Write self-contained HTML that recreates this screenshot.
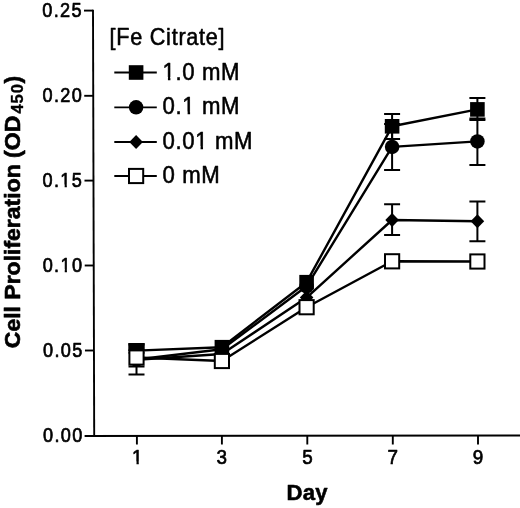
<!DOCTYPE html>
<html><head><meta charset="utf-8"><title>Cell Proliferation</title>
<style>
html,body{margin:0;padding:0;background:#fff;}
body{width:520px;height:508px;overflow:hidden;}
svg{display:block;filter:blur(0.35px);}
text{font-family:"Liberation Sans",Arial,Helvetica,sans-serif;fill:#000;stroke:#000;stroke-width:0.7px;stroke-linejoin:round;}
text.b{stroke-width:0.8px;}
text.l{stroke-width:0.55px;}
</style></head><body>
<svg width="520" height="508" viewBox="0 0 520 508">
<rect width="520" height="508" fill="#fff"/>

<g stroke="#000" stroke-width="1.9" fill="none" stroke-linecap="butt">
<line x1="93.0" y1="9.65" x2="94.2" y2="436.8"/>
<line x1="84.6" y1="435.95" x2="520" y2="435.5"/>
<line x1="84.00" y1="10.6" x2="93.00" y2="10.6"/>
<line x1="84.24" y1="95.8" x2="93.24" y2="95.8"/>
<line x1="84.48" y1="180.6" x2="93.48" y2="180.6"/>
<line x1="84.72" y1="265.5" x2="93.72" y2="265.5"/>
<line x1="84.96" y1="350.5" x2="93.96" y2="350.5"/>
<line x1="136.9" y1="435.8" x2="136.9" y2="444.5"/>
<line x1="221.9" y1="435.8" x2="221.9" y2="444.5"/>
<line x1="307.3" y1="435.8" x2="307.3" y2="444.5"/>
<line x1="392.8" y1="435.8" x2="392.8" y2="444.5"/>
<line x1="478.0" y1="435.8" x2="478.0" y2="444.5"/>
</g>
<g transform="translate(42.30,16.60) scale(0.875,1)"><text font-size="20.7" letter-spacing="1.53">0.25</text></g>
<g transform="translate(42.60,101.50) scale(0.875,1)"><text font-size="20.7" letter-spacing="1.53">0.20</text></g>
<g transform="translate(42.60,187.10) scale(0.875,1)"><text font-size="20.7" letter-spacing="1.53">0.15</text><rect x="20.35" y="-2.50" width="4.83" height="4.15" fill="#fff"/><rect x="27.71" y="-2.50" width="4.67" height="4.15" fill="#fff"/></g>
<g transform="translate(42.70,271.80) scale(0.875,1)"><text font-size="20.7" letter-spacing="1.53">0.10</text><rect x="20.35" y="-2.50" width="4.83" height="4.15" fill="#fff"/><rect x="27.71" y="-2.50" width="4.67" height="4.15" fill="#fff"/></g>
<g transform="translate(43.00,356.80) scale(0.875,1)"><text font-size="20.7" letter-spacing="1.53">0.05</text></g>
<g transform="translate(43.10,442.00) scale(0.875,1)"><text font-size="20.7" letter-spacing="1.53">0.00</text></g>
<g transform="translate(137.30,464.00) scale(0.91,1)"><text text-anchor="middle" font-size="20.7">1</text><rect x="-5.73" y="-2.50" width="4.83" height="4.15" fill="#fff"/><rect x="1.63" y="-2.50" width="4.67" height="4.15" fill="#fff"/></g>
<g transform="translate(221.70,464.00) scale(0.91,1)"><text text-anchor="middle" font-size="20.7">3</text></g>
<g transform="translate(307.50,464.00) scale(0.91,1)"><text text-anchor="middle" font-size="20.7">5</text></g>
<g transform="translate(392.80,464.00) scale(0.91,1)"><text text-anchor="middle" font-size="20.7">7</text></g>
<g transform="translate(477.90,464.00) scale(0.91,1)"><text text-anchor="middle" font-size="20.7">9</text></g>
<text class="b" style="stroke-width:0.6px" transform="translate(286.4,500.2) scale(0.97,1)" font-size="22.8" font-weight="bold" letter-spacing="0.3">Day</text>
<text class="b" style="stroke-width:0.65px" transform="translate(19.6,348.2) rotate(-90) scale(1,0.96)" font-size="23" font-weight="bold">Cell Proliferation (OD</text>
<text class="b" style="stroke-width:0.35px" transform="translate(22.9,113.6) rotate(-90)" font-size="16.6" font-weight="bold" letter-spacing="0.9">450</text>
<text class="b" style="stroke-width:0.5px" transform="translate(19.6,83.4) rotate(-90) scale(1,0.97)" font-size="23" font-weight="bold">)</text>
<text class="l" transform="translate(109.6,44.5) scale(0.94,1)" font-size="23" letter-spacing="0.78">[Fe Citrate]</text>
<line x1="114.3" y1="72.5" x2="156.8" y2="72.5" stroke="#000" stroke-width="1.8"/>
<rect x="128.80" y="65.20" width="14.6" height="14.6" fill="#000"/>
<g transform="translate(162.60,79.60) scale(0.944,1)"><text class="l" font-size="23.5" letter-spacing="0.63">1.0 mM</text><rect x="0.32" y="-2.63" width="5.32" height="4.21" fill="#fff"/><rect x="8.26" y="-2.63" width="5.14" height="4.21" fill="#fff"/></g>
<line x1="114.3" y1="107.3" x2="156.8" y2="107.3" stroke="#000" stroke-width="1.8"/>
<circle cx="136.10" cy="107.30" r="7.25" fill="#000"/>
<g transform="translate(162.60,114.30) scale(0.944,1)"><text class="l" font-size="23.5" letter-spacing="0.63">0.1 mM</text><rect x="21.17" y="-2.63" width="5.32" height="4.21" fill="#fff"/><rect x="29.12" y="-2.63" width="5.14" height="4.21" fill="#fff"/></g>
<line x1="114.3" y1="142.0" x2="156.8" y2="142.0" stroke="#000" stroke-width="1.8"/>
<polygon points="129.30,142.00 136.10,135.00 142.90,142.00 136.10,149.00" fill="#000"/>
<g transform="translate(162.60,148.90) scale(0.944,1)"><text class="l" font-size="23.5" letter-spacing="0.63">0.01 mM</text><rect x="34.87" y="-2.63" width="5.32" height="4.21" fill="#fff"/><rect x="42.82" y="-2.63" width="5.14" height="4.21" fill="#fff"/></g>
<line x1="114.3" y1="176.0" x2="156.8" y2="176.0" stroke="#000" stroke-width="1.8"/>
<rect x="129.00" y="168.90" width="14.2" height="14.2" fill="#fff" stroke="#000" stroke-width="2"/>
<g transform="translate(162.60,182.90) scale(0.944,1)"><text class="l" font-size="23.5" letter-spacing="0.63">0 mM</text></g>
<rect x="128.3" y="343.0" width="16.4" height="8" fill="#000"/>
<polyline points="136.5,350.6 221.9,347.2 306.6,282.2 392.1,126.3 477.4,109.4" fill="none" stroke="#000" stroke-width="2.4" stroke-linejoin="round"/>
<path d="M392.1 113.9V138.9M384.1 113.9H400.1M384.1 138.9H400.1" stroke="#000" stroke-width="2.0" fill="none"/>
<path d="M477.4 98.0V119.9M469.4 98.0H485.4M469.4 119.9H485.4" stroke="#000" stroke-width="2.0" fill="none"/>
<rect x="129.20" y="343.30" width="14.6" height="14.6" fill="#000"/>
<rect x="214.60" y="339.90" width="14.6" height="14.6" fill="#000"/>
<rect x="299.30" y="274.90" width="14.6" height="14.6" fill="#000"/>
<rect x="384.80" y="119.00" width="14.6" height="14.6" fill="#000"/>
<rect x="470.10" y="102.10" width="14.6" height="14.6" fill="#000"/>
<polyline points="136.5,359.5 221.9,349.3 306.6,286.3 392.1,146.9 477.4,141.4" fill="none" stroke="#000" stroke-width="2.4" stroke-linejoin="round"/>
<path d="M136.5 344.5V374.5M128.5 344.5H144.5M128.5 374.5H144.5" stroke="#000" stroke-width="2.0" fill="none"/>
<path d="M392.1 123.9V169.9M384.1 123.9H400.1M384.1 169.9H400.1" stroke="#000" stroke-width="2.0" fill="none"/>
<path d="M477.4 118.4V165.0M469.4 118.4H485.4M469.4 165.0H485.4" stroke="#000" stroke-width="2.0" fill="none"/>
<circle cx="136.50" cy="359.50" r="7.25" fill="#000"/>
<circle cx="221.90" cy="349.30" r="7.25" fill="#000"/>
<circle cx="306.60" cy="286.30" r="7.25" fill="#000"/>
<circle cx="392.10" cy="146.90" r="7.25" fill="#000"/>
<circle cx="477.40" cy="141.40" r="7.25" fill="#000"/>
<polyline points="136.5,359.8 221.9,354.0 306.6,297.6 392.1,220.0 477.4,221.2" fill="none" stroke="#000" stroke-width="2.4" stroke-linejoin="round"/>
<path d="M136.5 352.8V366.4M128.5 352.8H144.5M128.5 366.4H144.5" stroke="#000" stroke-width="2.0" fill="none"/>
<path d="M392.1 204.2V235.0M384.1 204.2H400.1M384.1 235.0H400.1" stroke="#000" stroke-width="2.0" fill="none"/>
<path d="M477.4 201.4V241.3M469.4 201.4H485.4M469.4 241.3H485.4" stroke="#000" stroke-width="2.0" fill="none"/>
<polygon points="129.70,359.80 136.50,352.80 143.30,359.80 136.50,366.80" fill="#000"/>
<polygon points="215.10,354.00 221.90,347.00 228.70,354.00 221.90,361.00" fill="#000"/>
<polygon points="299.80,297.60 306.60,290.60 313.40,297.60 306.60,304.60" fill="#000"/>
<polygon points="385.30,220.00 392.10,213.00 398.90,220.00 392.10,227.00" fill="#000"/>
<polygon points="470.60,221.20 477.40,214.20 484.20,221.20 477.40,228.20" fill="#000"/>
<polyline points="136.5,357.5 221.9,361.0 306.6,307.2 392.1,261.3 477.4,261.5" fill="none" stroke="#000" stroke-width="2.4" stroke-linejoin="round"/>
<rect x="129.40" y="350.40" width="14.2" height="14.2" fill="#fff" stroke="#000" stroke-width="2"/>
<rect x="214.80" y="353.90" width="14.2" height="14.2" fill="#fff" stroke="#000" stroke-width="2"/>
<rect x="299.50" y="300.10" width="14.2" height="14.2" fill="#fff" stroke="#000" stroke-width="2"/>
<rect x="385.00" y="254.20" width="14.2" height="14.2" fill="#fff" stroke="#000" stroke-width="2"/>
<rect x="470.30" y="254.40" width="14.2" height="14.2" fill="#fff" stroke="#000" stroke-width="2"/>
</svg></body></html>
